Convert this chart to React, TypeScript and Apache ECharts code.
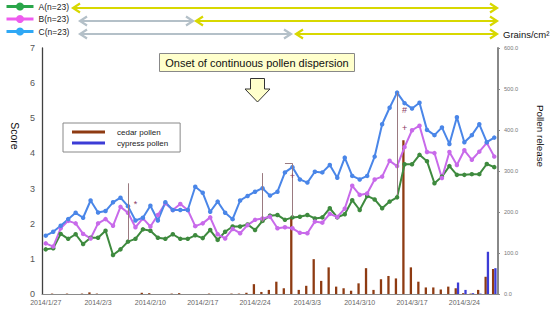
import React, { useEffect, useRef } from "react";
import * as echarts from "echarts";

const dates = [
  "2014/1/27", "2014/1/28", "2014/1/29", "2014/1/30", "2014/1/31",
  "2014/2/1", "2014/2/2", "2014/2/3", "2014/2/4", "2014/2/5", "2014/2/6", "2014/2/7",
  "2014/2/8", "2014/2/9", "2014/2/10", "2014/2/11", "2014/2/12", "2014/2/13", "2014/2/14",
  "2014/2/15", "2014/2/16", "2014/2/17", "2014/2/18", "2014/2/19", "2014/2/20", "2014/2/21",
  "2014/2/22", "2014/2/23", "2014/2/24", "2014/2/25", "2014/2/26", "2014/2/27", "2014/2/28",
  "2014/3/1", "2014/3/2", "2014/3/3", "2014/3/4", "2014/3/5", "2014/3/6", "2014/3/7",
  "2014/3/8", "2014/3/9", "2014/3/10", "2014/3/11", "2014/3/12", "2014/3/13", "2014/3/14",
  "2014/3/15", "2014/3/16", "2014/3/17", "2014/3/18", "2014/3/19", "2014/3/20", "2014/3/21",
  "2014/3/22", "2014/3/23", "2014/3/24", "2014/3/25", "2014/3/26", "2014/3/27", "2014/3/28",
];

const scoreA = [
  1.27, 1.30, 1.71, 1.57, 1.70, 1.42, 1.60, 1.60, 1.80, 1.11,
  1.27, 1.49, 1.57, 1.84, 1.80, 1.60, 1.57, 1.70, 1.57, 1.57,
  1.67, 1.59, 1.82, 1.54, 1.77, 1.92, 1.92, 1.98, 1.82, 2.08,
  2.23, 2.25, 2.11, 2.18, 2.20, 2.25, 2.15, 2.18, 2.44, 2.18,
  2.27, 2.67, 2.39, 2.79, 2.69, 2.44, 2.63, 2.75, 3.69, 3.69,
  3.96, 3.78, 3.15, 3.34, 3.64, 3.39, 3.39, 3.41, 3.41, 3.70,
  3.61,
];

const scoreB = [
  1.44, 1.35, 1.87, 2.08, 2.01, 1.71, 1.58, 2.01, 2.13, 1.94,
  2.48, 2.31, 1.90, 2.15, 1.92, 2.25, 2.58, 2.39, 2.56, 2.39,
  1.93, 2.01, 2.18, 1.70, 1.58, 1.85, 1.73, 1.96, 2.11, 2.15,
  2.20, 1.87, 1.90, 1.87, 1.74, 1.73, 2.06, 2.03, 2.28, 2.19,
  2.43, 3.08, 2.82, 2.86, 3.26, 3.34, 3.79, 3.64, 4.18, 4.66,
  4.79, 4.04, 4.01, 3.30, 4.04, 3.67, 4.09, 3.82, 4.05, 4.30,
  3.91,
];

const scoreC = [
  1.66, 1.77, 1.94, 2.13, 2.31, 2.17, 2.66, 2.32, 2.36, 2.61,
  2.74, 2.50, 2.09, 2.17, 2.51, 2.09, 2.61, 2.39, 2.39, 2.39,
  3.05, 2.88, 2.34, 2.63, 2.31, 2.13, 2.66, 2.79, 2.91, 3.01,
  2.80, 2.91, 3.46, 3.61, 3.26, 3.17, 3.48, 3.46, 3.67, 3.31,
  3.88, 3.36, 3.26, 3.36, 3.91, 4.83, 5.30, 5.73, 5.43, 5.28,
  5.44, 4.67, 4.52, 4.74, 4.27, 5.03, 4.32, 4.52, 4.83, 4.32,
  4.45,
];

const cedarPollen = [
  0, 1, 0, 1, 0, 1, 4, 1, 0, 0,
  0, 0, 0, 3, 2, 0, 0, 1, 2, 0,
  0, 0, 1, 0, 0, 1, 1, 3, 24, 5,
  10, 30, 14, 188, 10, 20, 85, 32, 65, 18,
  14, 8, 26, 63, 10, 36, 44, 38, 375, 65,
  30, 16, 16, 11, 18, 14, 2, 1, 10, 42,
  61,
];

const cypressPollen = [
  0, 0, 0, 0, 0, 0, 0, 0, 0, 0,
  0, 0, 0, 0, 0, 0, 0, 0, 0, 0,
  0, 0, 0, 0, 0, 0, 0, 0, 0, 0,
  0, 0, 0, 0, 0, 0, 0, 0, 0, 0,
  0, 0, 0, 0, 0, 0, 0, 0, 0, 0,
  0, 0, 0, 0, 0, 28, 10, 2, 1, 103,
  63,
];

// significance brackets (day index, top score, bottom score, tick at top?)
const bracketX = [11.1, 29.05, 32.6, 47.0];
const bracketTop = [3.15, 3.44, 3.72, 5.73];
const bracketBottom = [1.54, 2.05, 2.19, 2.82];
const bracketTickAtTop = [true, true, true, false];

const markSymbols = ["*", "+", "#", "+"];
const markX = [11.8, 33.2, 47.8, 47.9];
const markY = [2.55, 3.36, 5.24, 4.73];

const FONT = "Liberation Sans, Arial, sans-serif";

function arrowGroup(x1: number, x2: number, y: number, color: string) {
  const h = 4.5;
  const w = 7;
  return {
    type: "group",
    children: [
      { type: "line", shape: { x1: x1 + 1, y1: y, x2: x2 - 1, y2: y }, style: { stroke: color, lineWidth: 2.2 } },
      {
        type: "polyline",
        shape: { points: [[x1 + w, y - h], [x1, y], [x1 + w, y + h]] },
        style: { stroke: color, lineWidth: 2.2, fill: null },
      },
      {
        type: "polyline",
        shape: { points: [[x2 - w, y - h], [x2, y], [x2 - w, y + h]] },
        style: { stroke: color, lineWidth: 2.2, fill: null },
      },
    ],
  };
}

export default function App() {
  const ref = useRef<HTMLDivElement>(null);

  useEffect(() => {
    document.body.style.margin = "0";
    if (!ref.current) return;
    const chart = echarts.init(ref.current, undefined, { renderer: "svg" });

    const YELLOW = "#D8D800";
    const GRAY = "#B4C0C8";

    const bracketLines: any[] = [];
    bracketX.forEach((x, i) => {
      bracketLines.push([{ coord: [x, bracketTop[i]] }, { coord: [x, bracketBottom[i]] }]);
      const ty = bracketTickAtTop[i] ? bracketTop[i] : bracketBottom[i];
      bracketLines.push([{ coord: [x - 0.5, ty] }, { coord: [x, ty] }]);
    });

    const symbolPoints = markSymbols.map((s, i) => ({
      name: s,
      coord: [markX[i], markY[i]],
    }));

    const option: any = {
      animation: false,
      backgroundColor: "#ffffff",
      textStyle: { fontFamily: FONT },
      grid: { left: 42, right: 52, top: 48, bottom: 15, containLabel: false, outerBoundsMode: "none" },
      legend: [
        {
          data: [
            { name: "A(n=23)", itemStyle: { color: "#2AA64A" }, lineStyle: { color: "#2AA64A", width: 3 } },
            { name: "B(n=23)", itemStyle: { color: "#EE5CEE" }, lineStyle: { color: "#EE5CEE", width: 3 } },
            { name: "C(n=23)", itemStyle: { color: "#2FA8F5" }, lineStyle: { color: "#2FA8F5", width: 3 } },
          ],
          orient: "vertical",
          left: 5,
          top: 2,
          padding: 0,
          itemWidth: 27,
          itemHeight: 10,
          itemGap: 3.5,
          selectedMode: false,
          textStyle: { fontSize: 8.5, color: "#222", fontFamily: FONT },
        },
        {
          data: ["cedar pollen", "cypress pollen"],
          orient: "vertical",
          left: 63,
          top: 123,
          icon: "rect",
          itemWidth: 33,
          itemHeight: 3,
          itemGap: 3,
          padding: [5, 12, 5, 9],
          borderColor: "#888",
          borderWidth: 1,
          backgroundColor: "#ffffff",
          selectedMode: false,
          textStyle: { fontSize: 8, color: "#222", fontFamily: FONT, padding: [0, 0, 0, 7] },
        },
      ],
      xAxis: {
        type: "category",
        data: dates,
        boundaryGap: true,
        axisLine: { show: true, lineStyle: { color: "#8a8a8a", width: 1 } },
        axisTick: { show: false },
        axisLabel: { interval: 6, fontSize: 7, color: "#666", margin: 5, fontFamily: FONT },
        splitLine: { show: false },
      },
      yAxis: [
        {
          type: "value",
          min: 0,
          max: 7,
          interval: 1,
          axisLine: { show: true, lineStyle: { color: "#404040", width: 1.3 } },
          axisTick: { show: false },
          axisLabel: { fontSize: 9, color: "#555", margin: 7, fontFamily: FONT },
          splitLine: { show: false },
        },
        {
          type: "value",
          position: "right",
          min: 0,
          max: 600,
          interval: 100,
          axisLine: { show: true, lineStyle: { color: "#888", width: 2 } },
          axisTick: { show: true, length: 2, lineStyle: { color: "#888" } },
          axisLabel: {
            fontSize: 5.6,
            color: "#777",
            margin: 6,
            fontFamily: FONT,
            formatter: (v: number) => v.toFixed(1),
          },
          splitLine: { show: false },
        },
      ],
      series: [
        {
          name: "cedar pollen",
          type: "bar",
          yAxisIndex: 1,
          data: cedarPollen,
          barWidth: 2.3,
          barGap: "0%",
          itemStyle: { color: "#8E3B12" },
        },
        {
          name: "cypress pollen",
          type: "bar",
          yAxisIndex: 1,
          data: cypressPollen,
          barWidth: 2.3,
          barGap: "0%",
          itemStyle: { color: "#3C3CD6" },
        },
        {
          name: "A(n=23)",
          type: "line",
          data: scoreA,
          symbol: "circle",
          symbolSize: 4.5,
          lineStyle: { color: "#3E8A3E", width: 2 },
          itemStyle: { color: "#3E8A3E" },
        },
        {
          name: "B(n=23)",
          type: "line",
          data: scoreB,
          symbol: "circle",
          symbolSize: 4.5,
          lineStyle: { color: "#C86AEA", width: 2 },
          itemStyle: { color: "#C86AEA" },
        },
        {
          name: "C(n=23)",
          type: "line",
          data: scoreC,
          symbol: "circle",
          symbolSize: 4.5,
          lineStyle: { color: "#4A86E8", width: 2 },
          itemStyle: { color: "#4A86E8" },
          markLine: {
            silent: true,
            symbol: "none",
            animation: false,
            label: { show: false },
            lineStyle: { color: "#9A7A80", width: 1, type: "solid" },
            emphasis: { disabled: true },
            data: bracketLines,
          },
          markPoint: {
            silent: true,
            symbol: "circle",
            symbolSize: 1,
            itemStyle: { color: "rgba(0,0,0,0)" },
            label: {
              show: true,
              position: "inside",
              formatter: "{b}",
              color: "#8B3A62",
              fontSize: 9,
              fontFamily: FONT,
            },
            data: symbolPoints,
          },
        },
      ],
      graphic: [
        arrowGroup(73, 497, 8, YELLOW),
        arrowGroup(80, 193, 21, GRAY),
        arrowGroup(196, 497, 21, YELLOW),
        arrowGroup(80, 291, 34, GRAY),
        arrowGroup(296, 497, 34, YELLOW),
        {
          type: "text",
          x: 503,
          y: 34,
          style: {
            text: "Grains/cm²",
            fontSize: 9.5,
            fontFamily: FONT,
            fill: "#111",
            textAlign: "left",
            textVerticalAlign: "middle",
          },
        },
        {
          type: "rect",
          shape: { x: 159.5, y: 53.5, width: 195, height: 18 },
          style: { fill: "#FFFFCC", stroke: "#888", lineWidth: 1 },
        },
        {
          type: "text",
          x: 257,
          y: 62.5,
          style: {
            text: "Onset of continuous pollen dispersion",
            fontSize: 11,
            fontFamily: FONT,
            fill: "#111",
            textAlign: "center",
            textVerticalAlign: "middle",
          },
        },
        {
          type: "polygon",
          shape: {
            points: [
              [250.5, 78.5], [264.5, 78.5], [264.5, 89], [270, 89],
              [257.5, 102], [245, 89], [250.5, 89],
            ],
          },
          style: { fill: "#FFFFCC", stroke: "#333", lineWidth: 1 },
        },
        {
          type: "text",
          x: 15,
          y: 136,
          rotation: -Math.PI / 2,
          style: {
            text: "Score",
            fontSize: 10.5,
            fontFamily: FONT,
            fill: "#111",
            textAlign: "center",
            textVerticalAlign: "middle",
          },
        },
        {
          type: "text",
          x: 540,
          y: 136,
          rotation: -Math.PI / 2,
          style: {
            text: "Pollen release",
            fontSize: 9.8,
            fontFamily: FONT,
            fill: "#111",
            textAlign: "center",
            textVerticalAlign: "middle",
          },
        },
      ],
    };

    chart.setOption(option);
    return () => chart.dispose();
  }, []);

  return <div ref={ref} style={{ width: 550, height: 309 }} />;
}
